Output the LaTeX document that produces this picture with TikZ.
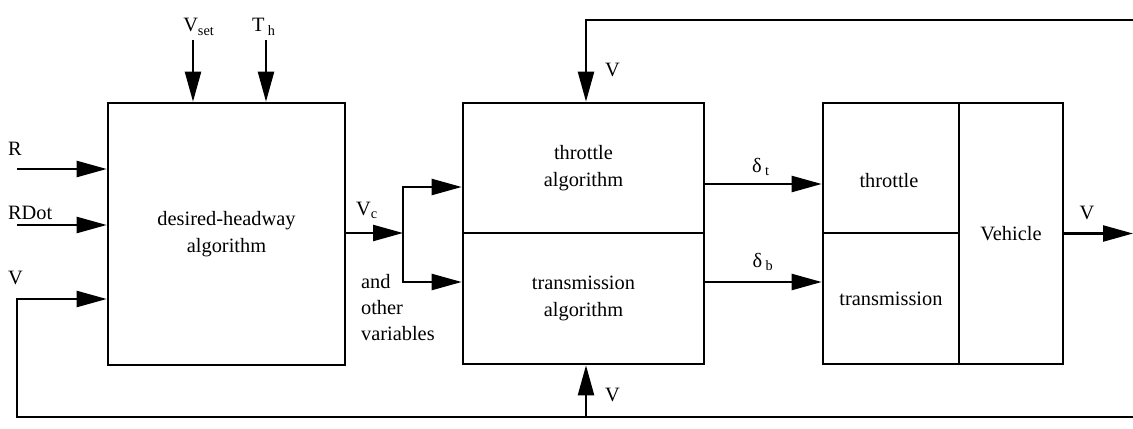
\documentclass[tikz,border=0pt]{standalone}
\usepackage{fontspec}
\setmainfont{Liberation Serif}
\usepackage{tikz}
\usetikzlibrary{arrows.meta,positioning,calc}

\begin{document}
\begin{tikzpicture}[
    x=0.02cm, y=-0.02cm,
    box/.style={draw, line width=1.5pt, align=center, inner sep=2pt,
      font=\fontsize{11.6}{15}\selectfont},
    lbl/.style={inner sep=1pt, align=left, font=\fontsize{11.6}{15}\selectfont},
    arr/.style={-{Triangle[length=6mm, width=3.2mm]}, line width=1.3pt},
    wire/.style={line width=1.3pt}
  ]
    \useasboundingbox (0,0) rectangle (1133,429);

    %% ---- Blocks ----
    \node[box, minimum width=4.74cm, minimum height=5.24cm] (dha) at (226.5,234) {desired-headway\\algorithm};
    \node[box, minimum width=4.82cm, minimum height=2.6cm]  (thralg) at (583.5,168) {throttle\\algorithm};
    \node[box, minimum width=4.82cm, minimum height=2.62cm] (tralg) at (583.5,298.5) {transmission\\algorithm};
    \node[box, minimum width=2.72cm, minimum height=2.6cm]  (thr) at (891,168) {};
    \node[box, minimum width=2.72cm, minimum height=2.62cm] (tra) at (891,298.5) {transmission};
    \node[box, minimum width=2.08cm, minimum height=5.22cm] (veh) at (1011,233.5) {Vehicle};
    \node[lbl] (thrtxt) at (889,181) {throttle};

    %% ---- Inputs to desired-headway algorithm ----
    \coordinate (rin)  at (17,169);
    \coordinate (rdin) at (17,225);
    \coordinate (vin)  at (17,299);
    \coordinate (vsin) at (193,40);
    \coordinate (thin) at (266,40);
    \draw[arr] (rin)  -- (rin -| dha.west);
    \draw[arr] (rdin) -- (rdin -| dha.west);
    \draw[arr] (vsin) -- (vsin |- dha.north);
    \draw[arr] (thin) -- (thin |- dha.north);
    \node[lbl, anchor=west] (lr)  at (6,149) {R};
    \node[lbl, anchor=west] (lrd) at (6,213) {RDot};
    \node[lbl, anchor=west] (lv)  at (6,278) {V};
    \node[lbl, anchor=base] (lvs) at (199,32) {V\textsubscript{set}};
    \node[lbl, anchor=base] (lth) at (264,32) {T\,\textsubscript{h}};

    %% ---- Vc split to the two algorithms ----
    \coordinate (split) at (403,233);
    \coordinate (spt) at (403,187);
    \coordinate (spb) at (403,282);
    \draw[arr] (split -| dha.east) -- (split);
    \draw[arr] (split) -- (spt) -- (spt -| thralg.west);
    \draw[arr] (split) -- (spb) -- (spb -| tralg.west);
    \node[lbl, anchor=base] (lvc) at (367,215) {V\textsubscript{c}};
    \node[lbl, anchor=north west] (lother) at (359,272) {and\\other\\variables};

    %% ---- Commands to the vehicle ----
    \draw[arr] ([yshift=-0.32cm]thralg.east) -- ([yshift=-0.32cm]thr.west);
    \draw[arr] ([yshift=0.33cm]tralg.east) -- ([yshift=0.33cm]tra.west);
    \node[lbl] (ldt) at (761,167) {δ\,\textsubscript{t}};
    \node[lbl] (ldb) at (763,262) {δ\,\textsubscript{b}};

    %% ---- Output and feedback of V ----
    \coordinate (vout)  at (1133,233.5);
    \coordinate (fbtop) at (1133,20);
    \coordinate (fbbot) at (1133,417);
    \coordinate (vtop)  at (586,20);
    \coordinate (vbot)  at (586,417);
    \draw[arr] (veh.east) -- (vout);
    \draw[arr] (fbtop) -- (vtop) -- (vtop |- thralg.north);
    \draw[arr] (vbot) -- (vbot |- tralg.south);
    \draw[arr] (fbbot) -- (vin |- fbbot) -- (vin) -- (vin -| dha.west);
    \node[lbl] (lvo) at (1087,213) {V};
    \node[lbl, anchor=west] (lvt) at (603,70) {V};
    \node[lbl, anchor=west] (lvb) at (603,395) {V};
  \end{tikzpicture}
\end{document}
